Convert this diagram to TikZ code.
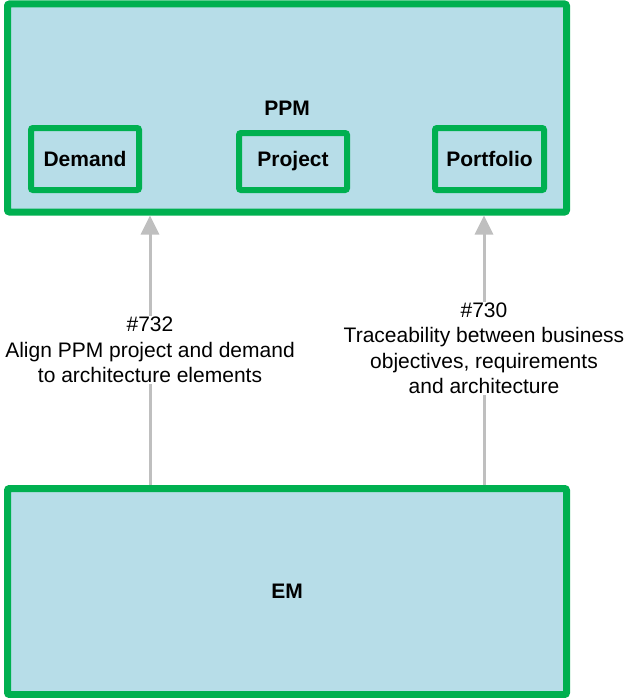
\documentclass[tikz,border=0pt]{standalone}
\usepackage{fontspec}
\setmainfont{Liberation Sans}
\usetikzlibrary{arrows.meta}
\definecolor{boxgreen}{RGB}{0,176,80}
\definecolor{boxfill}{RGB}{183,221,232}
\definecolor{linkgray}{RGB}{191,191,191}
\tikzset{
  bigbox/.style={draw=boxgreen, fill=boxfill, line width=7pt, rounded corners=2pt,
    inner sep=0pt, font=\fontsize{21}{24}\selectfont\bfseries},
  subbox/.style={draw=boxgreen, fill=boxfill, line width=6pt, rounded corners=2pt,
    inner sep=0pt, font=\fontsize{21}{24}\selectfont\bfseries},
  link/.style={draw=linkgray, line width=3pt, -{Triangle[length=19pt,width=18pt]}},
  linklabel/.style={fill=white, align=center, inner sep=1pt,
    font=\fontsize{21}{25.5}\selectfont}
}
\begin{document}
\begin{tikzpicture}[x=1pt,y=-1pt]
  \useasboundingbox (0,0) rectangle (626,698);

  % Upper system and its modules
  \node[bigbox, minimum width=559pt, minimum height=208pt] (ppm) at (287,108) {PPM};
  \node[subbox, minimum width=108pt, minimum height=62pt] (demand) at (85,159) {Demand};
  \node[subbox, minimum width=108pt, minimum height=57pt] (project) at (293,161.5) {Project};
  \node[subbox, minimum width=109pt, minimum height=62pt] (portfolio) at (489.5,159) {Portfolio};

  % Lower system
  \node[bigbox, minimum width=559pt, minimum height=206pt] (em) at (287,591.5) {EM};

  % Link anchors
  \coordinate (c732) at (150,350);
  \coordinate (c730) at (484,348.5);

  % Links
  \draw[link] (em.north -| c732) -- (ppm.south -| c732);
  \draw[link] (em.north -| c730) -- (ppm.south -| c730);

  % Link descriptions
  \node[linklabel] (l732) at (c732) {\#732\\Align PPM project and demand\\to architecture elements};
  \node[linklabel] (l730) at (c730) {\#730\\Traceability between business\\objectives, requirements\\and architecture};
\end{tikzpicture}
\end{document}
